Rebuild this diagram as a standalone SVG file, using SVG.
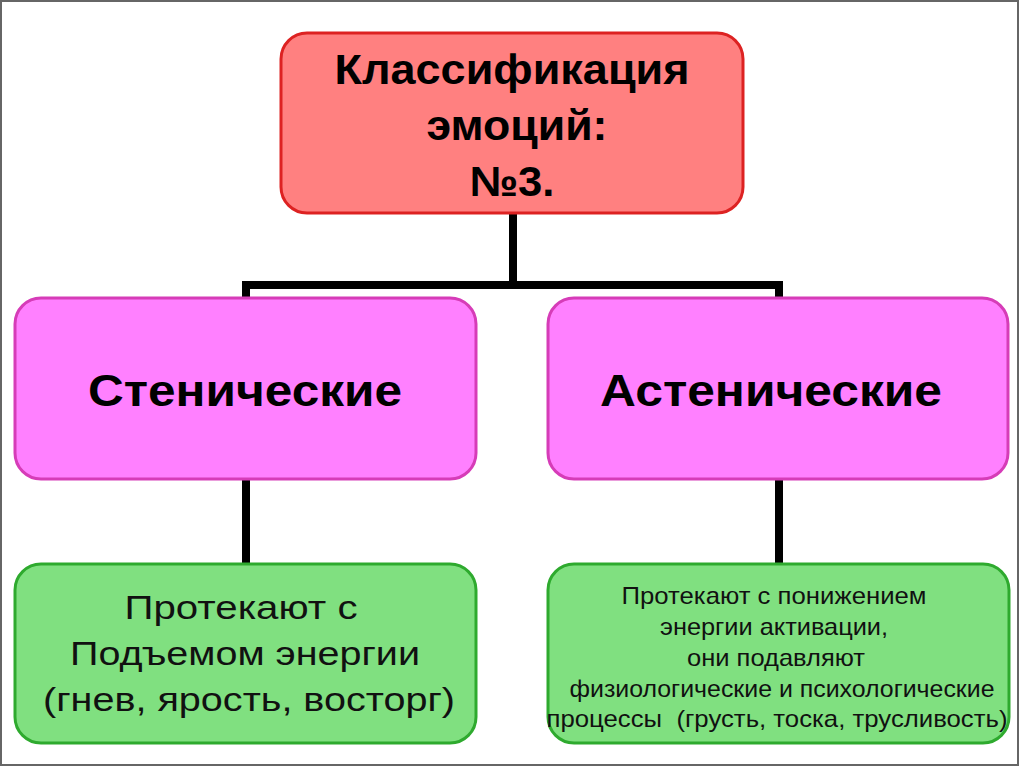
<svg xmlns="http://www.w3.org/2000/svg" width="1024" height="768" viewBox="0 0 1024 768">
<style>
.frame{fill:#fff;stroke:#666;stroke-width:2}
.conn{fill:none;stroke:#000;stroke-width:8;stroke-linejoin:miter}
.top{fill:#FF8080;stroke:#DD2222;stroke-width:3}
.pink{fill:#FF80FF;stroke:#D63CB8;stroke-width:3}
.green{fill:#80E080;stroke:#2EAA2E;stroke-width:3}
.b{font-family:"Liberation Sans",Arial,sans-serif;font-weight:bold;fill:#000;text-anchor:middle}
.r{font-family:"Liberation Sans",Arial,sans-serif;fill:#111;text-anchor:middle}
</style>
<rect class="frame" x="1" y="1" width="1017" height="764"/>
<g id="connectors">
<path class="conn" d="M513 213 V285"/>
<path class="conn" d="M246 298 V285 H779 V298"/>
<path class="conn" d="M246 479 V563"/>
<path class="conn" d="M779 479 V563"/>
</g>
<g id="root">
<rect class="top" x="281" y="33" width="462" height="180" rx="26"/>
<text class="b" font-size="42" x="512" y="84" textLength="355" lengthAdjust="spacingAndGlyphs">Классификация</text>
<text class="b" font-size="42" x="517" y="140" textLength="181" lengthAdjust="spacingAndGlyphs">эмоций:</text>
<text class="b" font-size="42" x="512" y="196" textLength="85" lengthAdjust="spacingAndGlyphs">№3.</text>
</g>
<g id="stenic">
<rect class="pink" x="15" y="298" width="461" height="181" rx="26"/>
<text class="b" font-size="44" x="245" y="406" textLength="314" lengthAdjust="spacingAndGlyphs">Стенические</text>
</g>
<g id="astenic">
<rect class="pink" x="548" y="298" width="460" height="181" rx="26"/>
<text class="b" font-size="44" x="771" y="406" textLength="342" lengthAdjust="spacingAndGlyphs">Астенические</text>
</g>
<g id="stenic-desc">
<rect class="green" x="15" y="564" width="461" height="179" rx="26"/>
<text class="r" font-size="33" x="241" y="619" textLength="233" lengthAdjust="spacingAndGlyphs">Протекают с</text>
<text class="r" font-size="33" x="245" y="665" textLength="350" lengthAdjust="spacingAndGlyphs">Подъемом энергии</text>
<text class="r" font-size="33" x="249" y="711" textLength="412" lengthAdjust="spacingAndGlyphs">(гнев, ярость, восторг)</text>
</g>
<g id="astenic-desc">
<rect class="green" x="548" y="564" width="461" height="179" rx="26"/>
<text class="r" font-size="24" x="774" y="604" textLength="305" lengthAdjust="spacingAndGlyphs">Протекают с понижением</text>
<text class="r" font-size="24" x="774" y="635" textLength="228" lengthAdjust="spacingAndGlyphs">энергии активации,</text>
<text class="r" font-size="24" x="776" y="666" textLength="178" lengthAdjust="spacingAndGlyphs">они подавляют</text>
<text class="r" font-size="24" x="782" y="697" textLength="425" lengthAdjust="spacingAndGlyphs">физиологические и психологические</text>
<text class="r" font-size="24" x="777" y="727" textLength="461" lengthAdjust="spacingAndGlyphs" xml:space="preserve">процессы  (грусть, тоска, трусливость)</text>
</g>
</svg>
